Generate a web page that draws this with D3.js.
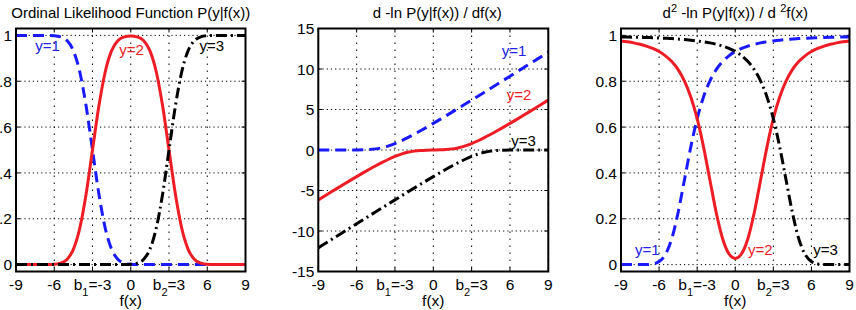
<!DOCTYPE html>
<html>
<head>
<meta charset="utf-8">
<script src="https://cdn.jsdelivr.net/npm/d3@7"></script>
<style>
body { margin: 0; background: #fff; }
svg { display: block; font-family: "Liberation Sans", Arial, sans-serif; }
</style>
</head>
<body>
<svg id="chart" width="856" height="310"></svg>
<script>
// sample points of f(x)
var fx = [-9,-8.5,-8,-7.5,-7,-6.5,-6,-5.5,-5,-4.5,-4,-3.5,-3,-2.5,-2,-1.5,-1,-0.5,0,0.5,1,1.5,2,2.5,3,3.5,4,4.5,5,5.5,6,6.5,7,7.5,8,8.5,9];

// P(y|f(x))
var likY1 = [1,1,1,1,1,0.9998,0.9987,0.9938,0.9772,0.9332,0.8413,0.6915,0.5,0.3085,0.1587,0.0668,0.0228,0.0062,0.0013,0.0002,0,0,0,0,0,0,0,0,0,0,0,0,0,0,0,0,0];
var likY2 = [0,0,0,0,0,0.0002,0.0013,0.0062,0.0228,0.0668,0.1587,0.3085,0.5,0.6915,0.8413,0.9332,0.9772,0.9936,0.9973,0.9936,0.9772,0.9332,0.8413,0.6915,0.5,0.3085,0.1587,0.0668,0.0228,0.0062,0.0013,0.0002,0,0,0,0,0];
var likY3 = [0,0,0,0,0,0,0,0,0,0,0,0,0,0,0,0,0,0.0002,0.0013,0.0062,0.0228,0.0668,0.1587,0.3085,0.5,0.6915,0.8413,0.9332,0.9772,0.9938,0.9987,0.9998,1,1,1,1,1];

// d -ln P / df
var gradY1 = [0,0,0,0,0.0001,0.0009,0.0044,0.0176,0.0553,0.1388,0.2876,0.5092,0.7979,1.1411,1.5251,1.9387,2.3732,2.8227,3.2831,3.7514,4.2256,4.7043,5.1865,5.6713,6.1587,6.6474,7.1376,7.629,8.1214,8.6146,9.1084,9.6029,10.098,10.5935,11.0894,11.5856,12.0822];
var gradY2 = [-6.1587,-5.6713,-5.1865,-4.7043,-4.2256,-3.7514,-3.2831,-2.8227,-2.3732,-1.9387,-1.5251,-1.1411,-0.7979,-0.5092,-0.2876,-0.1388,-0.0551,-0.0168,0,0.0168,0.0551,0.1388,0.2876,0.5092,0.7979,1.1411,1.5251,1.9387,2.3732,2.8227,3.2831,3.7514,4.2256,4.7043,5.1865,5.6713,6.1587];
var gradY3 = [-12.0822,-11.5856,-11.0894,-10.5935,-10.098,-9.6029,-9.1084,-8.6146,-8.1214,-7.629,-7.1376,-6.6474,-6.1587,-5.6713,-5.1865,-4.7043,-4.2256,-3.7514,-3.2831,-2.8227,-2.3732,-1.9387,-1.5251,-1.1411,-0.7979,-0.5092,-0.2876,-0.1388,-0.0553,-0.0176,-0.0044,-0.0009,-0.0001,0,0,0,0];

// d2 -ln P / df2
var hessY1 = [0,0,0,0.0001,0.0005,0.0031,0.0133,0.0444,0.1136,0.2275,0.3703,0.5138,0.6366,0.7315,0.8009,0.8505,0.8857,0.9109,0.9294,0.9431,0.9533,0.9611,0.9673,0.9720,0.9758,0.9790,0.9817,0.9839,0.9859,0.9873,0.9886,0.9897,0.9906,0.9914,0.9921,0.9927,0.9932];
var hessY2 = [0.9758,0.9720,0.9673,0.9611,0.9533,0.9431,0.9294,0.9109,0.8857,0.8505,0.8009,0.7315,0.6366,0.5138,0.3703,0.2275,0.1141,0.0475,0.0267,0.0475,0.1141,0.2275,0.3703,0.5138,0.6366,0.7315,0.8009,0.8505,0.8857,0.9109,0.9294,0.9431,0.9533,0.9611,0.9673,0.9720,0.9758];
var hessY3 = [0.9932,0.9927,0.9921,0.9914,0.9906,0.9897,0.9886,0.9873,0.9859,0.9839,0.9817,0.9790,0.9758,0.9720,0.9673,0.9611,0.9533,0.9431,0.9294,0.9109,0.8857,0.8505,0.8009,0.7315,0.6366,0.5138,0.3703,0.2275,0.1136,0.0444,0.0133,0.0031,0.0005,0.0001,0,0,0];

// ticks
var xTicks = [-9,-6,-3,0,3,6,9];
var xTickLabels = [["-9"],["-6"],["b","1","=-3"],["0"],["b","2","=3"],["6"],["9"]];
var probTicks = [0,0.2,0.4,0.6,0.8,1];
var probTickLabels = ["0","0.2","0.4","0.6","0.8","1"];
var gradTicks = [-15,-10,-5,0,5,10,15];
var gradTickLabels = ["-15","-10","-5","0","5","10","15"];

// curve annotations (data coords, like MATLAB text())
var likNotes = [["y=1",-7.5,0.93],["y=2",-0.9,0.915],["y=3",5.4,0.93]];
var gradNotes = [["y=1",5.35,11.6],["y=2",5.75,6.2],["y=3",6.1,0.45]];
var hessNotes = [["y=1",-7.9,0.04],["y=2",1.0,0.04],["y=3",6.15,0.04]];

var colors = ["#1a1aff","#ee1c24","#000000"];
var dashes = ["11,6", null, "11,4,2,4"];

var svg = d3.select("#chart");
var top0 = 28.5, bottom0 = 271.5;

var panels = [
  {x0:16, x1:245.5, ydom:[-0.03,1.03], yt:probTicks, ytl:probTickLabels, series:[likY1,likY2,likY3], notes:likNotes, tdx:0,
   title:[["Ordinal Likelihood Function P(y|f(x))",0]]},
  {x0:318.3, x1:548.3, ydom:[-15,15], yt:gradTicks, ytl:gradTickLabels, series:[gradY1,gradY2,gradY3], notes:gradNotes, tdx:4,
   title:[["d -ln P(y|f(x)) / df(x)",0]]},
  {x0:621, x1:849.5, ydom:[-0.03,1.03], yt:probTicks, ytl:probTickLabels, series:[hessY1,hessY2,hessY3], notes:hessNotes, tdx:0,
   title:[["d",0],["2",1],[" -ln P(y|f(x)) / d ",0],["2",1],["f(x)",0]]}
];

panels.forEach(function(p, pi) {
  var x = d3.scaleLinear().domain([-9, 9]).range([p.x0, p.x1]);
  var y = d3.scaleLinear().domain(p.ydom).range([bottom0, top0]);
  var g = svg.append("g");

  g.append("clipPath").attr("id", "clip" + pi)
    .append("rect").attr("x", p.x0).attr("y", top0).attr("width", p.x1 - p.x0).attr("height", bottom0 - top0);

  // dotted grid
  g.selectAll(".vg").data(xTicks).enter().append("line")
    .attr("x1", d => x(d)).attr("x2", d => x(d))
    .attr("y1", top0).attr("y2", bottom0)
    .attr("stroke", "#000").attr("stroke-width", 1).attr("stroke-dasharray", "1.5,5.5");
  g.selectAll(".hg").data(p.yt).enter().append("line")
    .attr("x1", p.x0).attr("x2", p.x1)
    .attr("y1", d => y(d)).attr("y2", d => y(d))
    .attr("stroke", "#000").attr("stroke-width", 1).attr("stroke-dasharray", "1.2,3");

  // inward ticks on all sides
  var tl = 4;
  xTicks.forEach(function(t) {
    g.append("line").attr("x1", x(t)).attr("x2", x(t)).attr("y1", bottom0).attr("y2", bottom0 - tl).attr("stroke", "#000");
    g.append("line").attr("x1", x(t)).attr("x2", x(t)).attr("y1", top0).attr("y2", top0 + tl).attr("stroke", "#000");
  });
  p.yt.forEach(function(t) {
    g.append("line").attr("x1", p.x0).attr("x2", p.x0 + tl).attr("y1", y(t)).attr("y2", y(t)).attr("stroke", "#000");
    g.append("line").attr("x1", p.x1).attr("x2", p.x1 - tl).attr("y1", y(t)).attr("y2", y(t)).attr("stroke", "#000");
  });

  // curves
  var line = d3.line().x((d, i) => x(fx[i])).y(d => y(d)).curve(d3.curveMonotoneX);
  p.series.forEach(function(s, si) {
    g.append("path").datum(s)
      .attr("clip-path", "url(#clip" + pi + ")")
      .attr("fill", "none")
      .attr("stroke", colors[si])
      .attr("stroke-width", 3)
      .attr("stroke-dasharray", dashes[si])
      .attr("d", line);
  });

  // box
  g.append("rect").attr("x", p.x0).attr("y", top0)
    .attr("width", p.x1 - p.x0).attr("height", bottom0 - top0)
    .attr("fill", "none").attr("stroke", "#000").attr("stroke-width", 2);

  // curve labels
  p.notes.forEach(function(n, ni) {
    g.append("text").attr("x", x(n[1])).attr("y", y(n[2]))
      .attr("fill", ni == 1 ? "#ee1c24" : (ni == 0 ? "#2020e8" : "#000"))
      .attr("font-size", 15).text(n[0]);
  });

  // y tick labels
  g.selectAll(".yl").data(p.yt).enter().append("text")
    .attr("x", p.x0 - 4).attr("y", d => y(d)).attr("dy", "0.36em")
    .attr("text-anchor", "end").attr("font-size", 15.5)
    .text((d, i) => p.ytl[i]);

  // x tick labels
  xTicks.forEach(function(t, i) {
    var parts = xTickLabels[i];
    var tx = g.append("text").attr("x", x(t)).attr("y", 290)
      .attr("text-anchor", "middle").attr("font-size", 15.5);
    if (parts.length == 1) {
      tx.text(parts[0]);
    } else {
      tx.append("tspan").text(parts[0]);
      tx.append("tspan").attr("dy", 6).attr("font-size", 11).text(parts[1]);
      tx.append("tspan").attr("dy", -6).text(parts[2]);
    }
  });

  // x axis label
  g.append("text").attr("x", (p.x0 + p.x1) / 2).attr("y", 306)
    .attr("text-anchor", "middle").attr("font-size", 15.5).text("f(x)");

  // title
  var tt = g.append("text").attr("x", (p.x0 + p.x1) / 2 + p.tdx).attr("y", 18)
    .attr("text-anchor", "middle").attr("font-size", 15);
  var up = 0;
  p.title.forEach(function(part) {
    var sp = tt.append("tspan").text(part[0]);
    if (part[1] && !up) { sp.attr("dy", -6).attr("font-size", 11); up = 1; }
    else if (!part[1] && up) { sp.attr("dy", 6); up = 0; }
  });
});
</script>
</body>
</html>
